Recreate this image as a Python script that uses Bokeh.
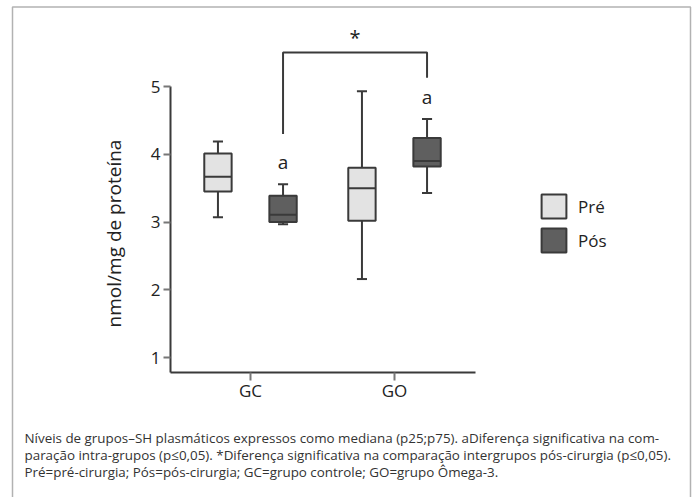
import math
from bokeh.plotting import figure
from bokeh.models import (Range1d, FixedTicker, Label, BoxAnnotation, Legend, LegendItem,
                          ColumnDataSource)
from bokeh.embed import file_html
from bokeh.resources import INLINE

# ---- data ----
groups = ["GC", "GO"]
group_pos = [1, 2]
pre_min = [3.07, 2.16]
pre_q1 = [3.45, 3.02]
pre_med = [3.67, 3.50]
pre_q3 = [4.01, 3.80]
pre_max = [4.19, 4.93]
pos_min = [2.97, 3.43]
pos_q1 = [3.00, 3.82]
pos_med = [3.11, 3.90]
pos_q3 = [3.39, 4.24]
pos_max = [3.56, 4.52]
series_names = ["Pré", "Pós"]
y_ticks = [1, 2, 3, 4, 5]
sig_letter = "a"
sig_star = "*"
y_label = "nmol/mg de proteína"
caption_lines = [
    "Níveis de grupos–SH plasmáticos expressos como mediana (p25;p75). aDiferença significativa na com-",
    "paração intra-grupos (p≤0,05). *Diferença significativa na comparação intergrupos pós-cirurgia (p≤0,05).",
    "Pré=pré-cirurgia; Pós=pós-cirurgia; GC=grupo controle; GO=grupo Ômega-3.",
]

W, H = 697, 497
FONT = "Open Sans"
LINE = "#3a3a3a"
TXT = "#222222"
fills = ["#e3e3e3", "#5f5f5f"]
offset = 0.226
box_w = 0.19
cap_w = 0.07

# layout scale: pixel <-> data (frame covers whole canvas)
XPX, X0PX = 144.0, 250.0      # px per unit, px of x=1
YPX, Y5PX = 67.8, 86.0        # px per unit, px of y=5
def dx(px):
    return 1 + (px - X0PX) / XPX
def dy(py):
    return 5 - (py - Y5PX) / YPX

x_axis_y = dy(372)
y_axis_x = dx(170)

p = figure(width=W, height=H, output_backend="svg", toolbar_location=None,
           x_range=Range1d(dx(0), dx(W)), y_range=Range1d(dy(H), dy(0)),
           min_border=0, min_border_left=0, min_border_right=0,
           min_border_top=0, min_border_bottom=0)
p.xgrid.visible = False
p.ygrid.visible = False
p.outline_line_color = None
p.background_fill_color = "white"
p.border_fill_color = "white"

renderers = []
for k, (mn, q1, md, q3, mx) in enumerate([(pre_min, pre_q1, pre_med, pre_q3, pre_max),
                                          (pos_min, pos_q1, pos_med, pos_q3, pos_max)]):
    sgn = -1 if k == 0 else 1
    xs = [g + sgn * offset for g in group_pos]
    src = ColumnDataSource(dict(x=xs, mn=mn, q1=q1, md=md, q3=q3, mx=mx,
                                xl=[x - box_w / 2 for x in xs], xr=[x + box_w / 2 for x in xs],
                                cl=[x - cap_w / 2 for x in xs], cr=[x + cap_w / 2 for x in xs]))
    p.segment(x0="x", y0="q3", x1="x", y1="mx", source=src, line_color=LINE, line_width=2)
    p.segment(x0="x", y0="q1", x1="x", y1="mn", source=src, line_color=LINE, line_width=2)
    p.segment(x0="cl", y0="mx", x1="cr", y1="mx", source=src, line_color=LINE, line_width=2)
    p.segment(x0="cl", y0="mn", x1="cr", y1="mn", source=src, line_color=LINE, line_width=2)
    r = p.vbar(x="x", width=box_w, top="q3", bottom="q1", source=src,
               fill_color=fills[k], line_color=LINE, line_width=2)
    renderers.append(r)
    p.segment(x0="xl", y0="md", x1="xr", y1="md", source=src, line_color=LINE, line_width=2)

# significance letters above post boxes
for g, mx in zip(group_pos, pos_max):
    p.add_layout(Label(x=g + offset, y=mx + 0.33, text=sig_letter, text_align="center",
                       text_baseline="middle", text_font=FONT, text_font_size="19px",
                       text_color=TXT))

# bracket between post boxes
bx0 = group_pos[0] + offset
bx1 = group_pos[1] + offset
btop = 5.50
p.line(x=[bx0, bx0, bx1, bx1], y=[4.30, btop, btop, 5.13], line_color=LINE, line_width=2)
p.add_layout(Label(x=(bx0 + bx1) / 2, y=btop + 0.23, text=sig_star, text_align="center",
                   text_baseline="middle", text_font=FONT, text_font_size="20px",
                   text_color=TXT))

# axes (fixed inside the full-canvas frame)
yax = p.yaxis[0]
yax.fixed_location = y_axis_x
yax.ticker = FixedTicker(ticks=y_ticks)
yax.bounds = (x_axis_y, 5.0)
yax.axis_line_color = LINE
yax.axis_line_width = 2
yax.major_tick_line_color = "#777777"
yax.major_tick_line_width = 2
yax.major_tick_out = 7
yax.major_tick_in = 0
yax.minor_tick_line_color = None
yax.major_label_standoff = 3
yax.major_label_text_font = FONT
yax.major_label_text_font_size = "17px"
yax.major_label_text_color = TXT

xax = p.xaxis[0]
xax.fixed_location = x_axis_y
xax.ticker = FixedTicker(ticks=group_pos)
xax.major_label_overrides = {g: n for g, n in zip(group_pos, groups)}
xax.bounds = (y_axis_x, dx(475))
xax.axis_line_color = LINE
xax.axis_line_width = 2
xax.major_tick_line_color = "#777777"
xax.major_tick_line_width = 2
xax.major_tick_out = 8
xax.major_tick_in = 0
xax.minor_tick_line_color = None
xax.major_label_standoff = -2
xax.major_label_text_font = FONT
xax.major_label_text_font_size = "17px"
xax.major_label_text_color = TXT

# y axis title
p.add_layout(Label(x=dx(113), y=dy(233), text=y_label, angle=math.pi / 2,
                   text_align="center", text_baseline="middle", text_font=FONT,
                   text_font_size="19px", text_color=TXT))

# legend
legend = Legend(items=[LegendItem(label=series_names[0], renderers=[renderers[0]]),
                       LegendItem(label=series_names[1], renderers=[renderers[1]])],
                location=(538, H - 255), glyph_width=31, glyph_height=30, label_height=30,
                spacing=4, padding=0, margin=0, label_standoff=9,
                label_text_font=FONT, label_text_font_size="17px", label_text_color=TXT,
                border_line_color=None, background_fill_alpha=0)
p.add_layout(legend, "center")

# outer border
p.add_layout(BoxAnnotation(left=dx(12), right=dx(690), top=dy(6.5), bottom=dy(520),
                           fill_alpha=0, line_color="black", line_width=1.5, level="overlay"))

# caption
for i, line in enumerate(caption_lines):
    p.add_layout(Label(x=dx(24), y=dy(437 + 17 * i), text=line, text_align="left",
                       text_baseline="middle", text_font=FONT, text_font_size="13.4px",
                       text_color="#333333"))

open("out.html", "w").write(file_html(p, INLINE))
